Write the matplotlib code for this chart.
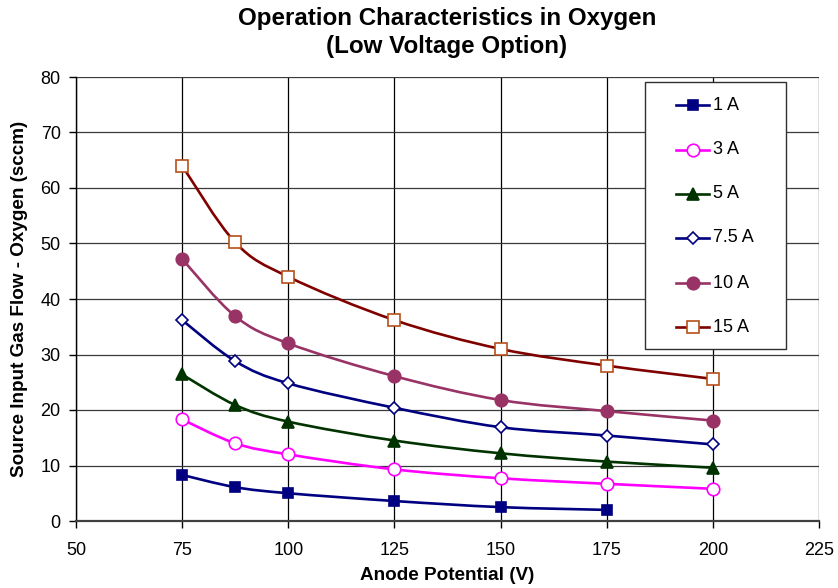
import numpy as np
import matplotlib
matplotlib.use("Agg")
import matplotlib.pyplot as plt
from matplotlib.path import Path
from matplotlib.patches import PathPatch, Rectangle
from matplotlib.lines import Line2D

plt.rcParams['font.family'] = ['Liberation Sans', 'DejaVu Sans']

# Anode potential (V)
voltage = [75, 87.5, 100, 125, 150, 175, 200]

# Source input gas flow (sccm) per discharge current
flow_1A = [8.3, 6.1, 5.0, 3.6, 2.5, 2.0]
flow_3A = [18.3, 14.0, 12.0, 9.3, 7.7, 6.7, 5.8]
flow_5A = [26.4, 20.9, 17.9, 14.5, 12.2, 10.7, 9.6]
flow_7_5A = [36.2, 28.8, 24.8, 20.4, 16.9, 15.4, 13.8]
flow_10A = [47.2, 36.9, 32.0, 26.1, 21.8, 19.8, 18.1]
flow_15A = [64.0, 50.2, 44.0, 36.2, 31.0, 28.0, 25.6]

labels = ["1 A", "3 A", "5 A", "7.5 A", "10 A", "15 A"]

series = [
    # values, line colour, marker, marker face, marker edge, marker size
    (flow_1A, "#000080", "s", "#000080", "#000080", 6.5),
    (flow_3A, "#FF00FF", "o", "white", "#FF00FF", 9),
    (flow_5A, "#003300", "^", "#003300", "#003300", 9),
    (flow_7_5A, "#000080", "D", "white", "#000080", 6.5),
    (flow_10A, "#993366", "o", "#993366", "#993366", 9),
    (flow_15A, "#800000", "s", "white", "#B5501A", 9),
]

W, H = 838, 588


def fx(px):
    return px / W


def fy(py):
    return 1 - py / H


def smooth_path(xs, ys):
    """Cubic Bezier path through the points (Catmull-Rom style smoothing)."""
    pts = np.column_stack([xs, ys]).astype(float)
    n = len(pts)
    verts = [pts[0]]
    codes = [Path.MOVETO]
    for i in range(n - 1):
        p0 = pts[i - 1] if i > 0 else pts[i]
        p1 = pts[i]
        p2 = pts[i + 1]
        p3 = pts[i + 2] if i + 2 < n else pts[i + 1]
        c1 = p1 + (p2 - p0) / 6.0
        c2 = p2 - (p3 - p1) / 6.0
        verts += [c1, c2, p2]
        codes += [Path.CURVE4] * 3
    return Path(verts, codes)


fig = plt.figure(figsize=(W / 100, H / 100), dpi=100)
ax = fig.add_axes([fx(76), fy(521), (819 - 76) / W, (521 - 77) / H])

ax.set_xlim(50, 225)
ax.set_ylim(0, 80)
ax.set_xticks(np.arange(50, 226, 25))
ax.set_yticks(np.arange(0, 81, 10))

ax.grid(True, axis="x", color="black", linewidth=0.9)
ax.grid(True, axis="y", color="#3a3a3a", linewidth=0.9)
ax.set_axisbelow(True)

for sp in ax.spines.values():
    sp.set_visible(False)
ax.spines["left"].set_visible(True)
ax.spines["left"].set_color("black")
ax.spines["left"].set_linewidth(1.0)
ax.spines["bottom"].set_visible(True)
ax.spines["bottom"].set_color("#404040")
ax.spines["bottom"].set_linewidth(1.6)

ax.tick_params(direction="out", length=5, width=1, colors="black",
               labelsize=13, pad=6)
ax.tick_params(axis="x", pad=10)

for vals, col, mk, mfc, mec, ms in series:
    xs = voltage[:len(vals)]
    patch = PathPatch(smooth_path(xs, vals), facecolor="none", edgecolor=col,
                      linewidth=1.9, zorder=3)
    ax.add_patch(patch)
    ax.plot(xs, vals, linestyle="none", marker=mk, markersize=ms,
            markerfacecolor=mfc, markeredgecolor=mec, markeredgewidth=1.2,
            zorder=4, clip_on=False)

# Legend box drawn in figure coordinates
box = Rectangle((fx(645), fy(349)), (786 - 645) / W, (349 - 82) / H,
                transform=fig.transFigure, facecolor="white",
                edgecolor="#303030", linewidth=1.0, zorder=10)
fig.add_artist(box)
entry_y = [105, 150, 194, 238, 283, 327]
for (vals, col, mk, mfc, mec, ms), lab, py in zip(series, labels, entry_y):
    fig.add_artist(Line2D([fx(676), fx(709)], [fy(py), fy(py)],
                          transform=fig.transFigure, color=col,
                          linewidth=1.9, zorder=11))
    fig.add_artist(Line2D([fx(692.5)], [fy(py)], transform=fig.transFigure,
                          linestyle="none", marker=mk, markersize=ms,
                          markerfacecolor=mfc, markeredgecolor=mec,
                          markeredgewidth=1.2, zorder=12))
    fig.text(fx(713), fy(py), lab, ha="left", va="center", fontsize=13,
             zorder=12)

fig.text(fx(447), fy(18), "Operation Characteristics in Oxygen",
         ha="center", va="center", fontsize=17.4, fontweight="bold")
fig.text(fx(447), fy(47), "(Low Voltage Option)",
         ha="center", va="center", fontsize=17.4, fontweight="bold")

fig.text(fx(447), fy(575), "Anode Potential (V)",
         ha="center", va="center", fontsize=13.6, fontweight="bold")
fig.text(fx(20), fy(299), "Source Input Gas Flow - Oxygen (sccm)",
         ha="center", va="center", rotation=90, fontsize=13.6,
         fontweight="bold")

fig.savefig("out.png", dpi=100)
